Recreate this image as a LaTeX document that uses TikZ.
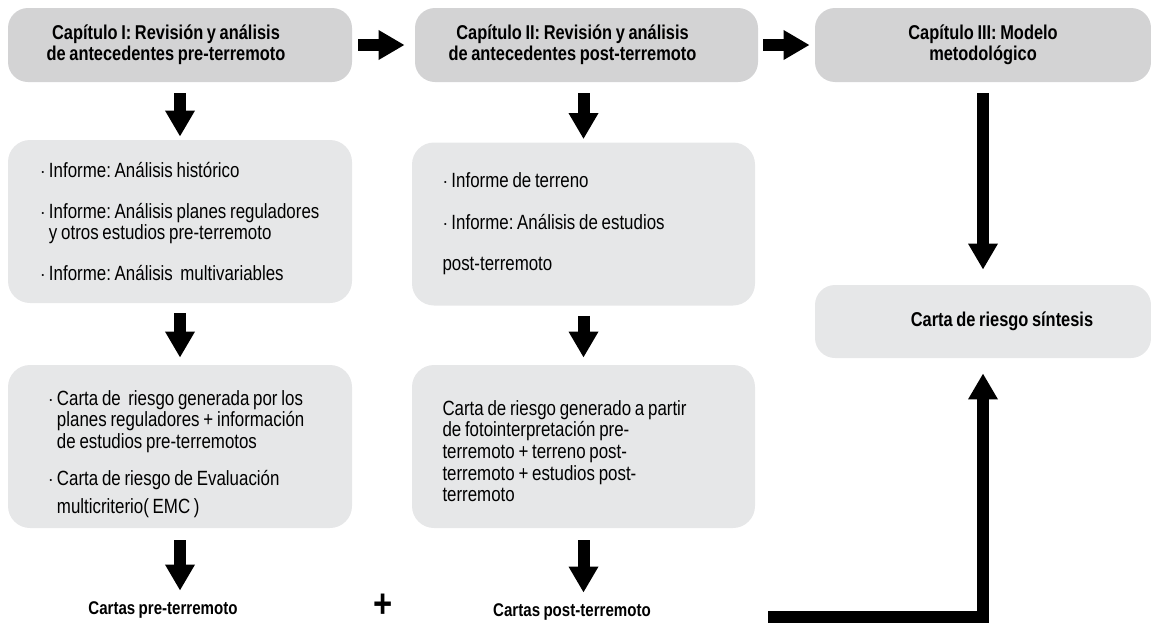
\documentclass[tikz,border=0pt]{standalone}
\usepackage{fontspec}
\setmainfont[FakeStretch=0.82, WordSpace=0.8]{Liberation Sans}
\usepackage{tikz}
\usetikzlibrary{arrows.meta}
\usetikzlibrary{positioning}
\definecolor{chapgray}{RGB}{211, 211, 212}
\definecolor{infogray}{RGB}{230, 231, 232}
\tikzset{chapbox/.style = {fill=chapgray, rounded corners=10pt,
                           minimum width=172pt, minimum height=37pt,
                           align=center, font=\frenchspacing\bfseries\fontsize{10}{10.5}\selectfont},
         infobox/.style = {fill=infogray, rounded corners=11pt,
                           minimum height=81.5pt, align=flush left,
                           font=\frenchspacing\fontsize{10.3}{10.8}\selectfont},
         bigarrow/.style = {line width=6pt, -{Triangle[width=14pt, length=13pt]}},
         endlabel/.style = {font=\bfseries\fontsize{9.2}{11}\selectfont}}
\newcommand{\bul}{$\cdot$\,}
\newcommand{\hang}{\hphantom{$\cdot$\,}}

\begin{document}
\begin{tikzpicture}[x=0.5pt, y=-0.5pt]
    \useasboundingbox (0, 0) rectangle (1151, 627);
    \node [chapbox] (cap1) at (180, 45) {Capítulo I: Revisión y análisis\hspace*{14pt}\\de antecedentes pre-terremoto\hspace*{14pt}};
    \node [chapbox, minimum width=171.5pt] (cap2) at (586.5, 45) {Capítulo II: Revisión y análisis\hspace*{14pt}\\de antecedentes post-terremoto\hspace*{14pt}};
    \node [chapbox, minimum width=168pt] (cap3) at (983, 45) {Capítulo III: Modelo\\metodológico};
    \node [infobox, text width=140pt, inner xsep=16pt] (inf1) at (180, 221.5)
        {\bul Informe: Análisis histórico\\[9.5pt]
         \bul Informe: Análisis planes reguladores\\
         \hang y otros estudios pre-terremoto\\[9.5pt]
         \bul Informe: Análisis\ \ multivariables};
    \node [infobox, text width=141pt, inner xsep=15.25pt] (inf2) at (583.5, 224)
        {\bul Informe de terreno\\[10pt]
         \bul Informe: Análisis de estudios\\[10pt]
         post-terremoto};
    \node [infobox, text width=132pt, inner xsep=20pt] (car1) at (180, 446.5)
        {\rule{0pt}{15pt}\bul Carta de\ \ riesgo generada por los\\
         \hang planes reguladores + información\\
         \hang de estudios pre-terremotos\\[8pt]
         \bul Carta de riesgo de Evaluación\\[3pt]
         \hang multicriterio( EMC )};
    \node [infobox, text width=141pt, inner xsep=15.25pt] (car2) at (583.5, 446.5)
        {\rule{0pt}{12pt}Carta de riesgo generado a partir\\
         de fotointerpretación pre-\\
         terremoto + terreno post-\\
         terremoto + estudios post-\\
         terremoto};
    \node [chapbox, fill=infogray, minimum width=168pt, minimum height=36.5pt] (sint) at (983, 321.5)
        {\hspace*{19pt}Carta de riesgo síntesis};
    \node [endlabel] (pre) at (163, 610) {Cartas pre-terremoto};
    \node [font=\bfseries\fontsize{20}{20}\selectfont] (mas) at (383, 606) {+};
    \node [endlabel] (post) at (572, 612) {Cartas post-terremoto};
    \coordinate (lstart) at (768, 617);
    % flechas
    \draw [bigarrow, shorten <=3pt, shorten >=5pt] (cap1) -- (cap2);
    \draw [bigarrow, shorten <=2.5pt, shorten >=2.5pt] (cap2) -- (cap3);
    \draw [bigarrow, shorten <=5.5pt, shorten >=1.5pt] (cap1) -- (inf1);
    \draw [bigarrow, shorten <=5.5pt, shorten >=1.5pt] (cap2.south -| inf2) -- (inf2);
    \draw [bigarrow, shorten <=5pt, shorten >=3.5pt] (inf1) -- (car1);
    \draw [bigarrow, shorten <=5pt, shorten >=3.5pt] (inf2.south) -- (car2);
    \draw [bigarrow, shorten <=6pt, shorten >=2pt] (car1) -- (car1.south |- pre.north);
    \draw [bigarrow, shorten <=6pt, shorten >=2pt] (car2) -- (car2.south |- post.north);
    \draw [bigarrow, shorten <=5.5pt, shorten >=7.5pt] (cap3) -- (sint);
    \draw [bigarrow, shorten >=7.5pt] (lstart) -- (lstart -| sint.south) -- (sint.south);
\end{tikzpicture}
\end{document}
